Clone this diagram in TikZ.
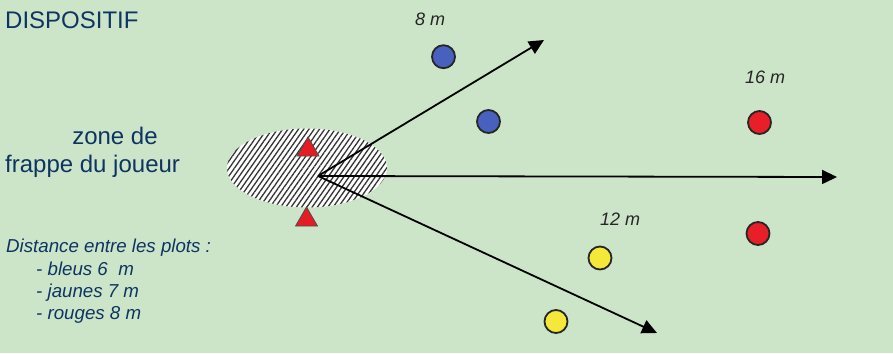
\documentclass[tikz,border=0pt]{standalone}
\usepackage{fontspec}
\setmainfont{Liberation Sans}
\usetikzlibrary{arrows.meta,patterns.meta,shapes.geometric}
\definecolor{bg}{RGB}{204,229,200}
\definecolor{navy}{RGB}{14,52,98}
\definecolor{plotblue}{RGB}{72,96,190}
\definecolor{plotred}{RGB}{232,30,40}
\definecolor{plotyellow}{RGB}{244,232,58}
\definecolor{tri}{RGB}{228,28,36}
\tikzset{
  plot/.style={circle,draw=black!85,line width=1.8pt,minimum size=23pt,inner sep=0pt},
  bluep/.style={plot,fill=plotblue},
  redp/.style={plot,fill=plotred},
  yellowp/.style={plot,fill=plotyellow},
  trimark/.style={regular polygon,regular polygon sides=3,minimum size=25.4pt,inner sep=0pt,fill=tri,draw=black!70,line width=0.8pt},
  shot/.style={line width=1.8pt,draw=black,-{Triangle[length=15pt,width=14pt]}},
  bigtxt/.style={inner sep=0pt,text=navy,font=\fontsize{24}{28}\selectfont},
  smalltxt/.style={inner sep=0pt,text=navy,font=\fontsize{18.7}{22}\selectfont\itshape},
  disttxt/.style={inner sep=0pt,text=black!85,font=\fontsize{18}{21}\selectfont\itshape},
}
\begin{document}
\begin{tikzpicture}[x=1pt,y=-1pt]
\fill[bg] (0,0) rectangle (893,353);
\useasboundingbox (0,0) rectangle (893,353);
% zone
\node[ellipse,minimum width=160pt,minimum height=79pt,inner sep=0pt,fill=white] (zone) at (307,168) {};
\fill[pattern={Lines[angle=55,distance=4.3pt,line width=1.3pt]},pattern color=black!80] (307,168) ellipse [x radius=80pt,y radius=39.5pt];
\node[trimark] (t1) at (308,149.7) {};
\node[trimark] (t2) at (306.5,219.7) {};
% arrows
\coordinate (o) at (318,176);
\coordinate (e1) at (544,40);
\coordinate (e2) at (837,177);
\coordinate (e3) at (657,333);
\draw[shot] (o) -- (e1);
\draw[shot] (o) -- (e2);
\draw[shot] (o) -- (e3);
% plots
\node[bluep] (b1) at (443.5,56.7) {};
\node[bluep] (b2) at (488.5,121.5) {};
\node[redp] (r1) at (759.5,122.5) {};
\node[redp] (r2) at (758,233.5) {};
\node[yellowp] (y1) at (600,258) {};
\node[yellowp] (y2) at (556,321.5) {};
% distance labels
\node[disttxt,anchor=base west] (d8) at (415,26) {8 m};
\node[disttxt,anchor=base west] (d16) at (745,83) {16 m};
\node[disttxt,anchor=base west] (d12) at (600,225) {12 m};
% texts
\node[bigtxt,anchor=base west] (title) at (5,29) {DISPOSITIF};
\node[bigtxt,anchor=base] (z1) at (115,144) {zone de};
\node[bigtxt,anchor=base west] (z2) at (5,172) {frappe du joueur};
\node[smalltxt,anchor=base west] (l0) at (6,252) {Distance entre les plots :};
\node[smalltxt,anchor=base west] (l1) at (36,275) {- bleus 6\ \ m};
\node[smalltxt,anchor=base west] (l2) at (36,297) {- jaunes 7 m};
\node[smalltxt,anchor=base west] (l3) at (36,319) {- rouges 8 m};
\end{tikzpicture}
\end{document}
